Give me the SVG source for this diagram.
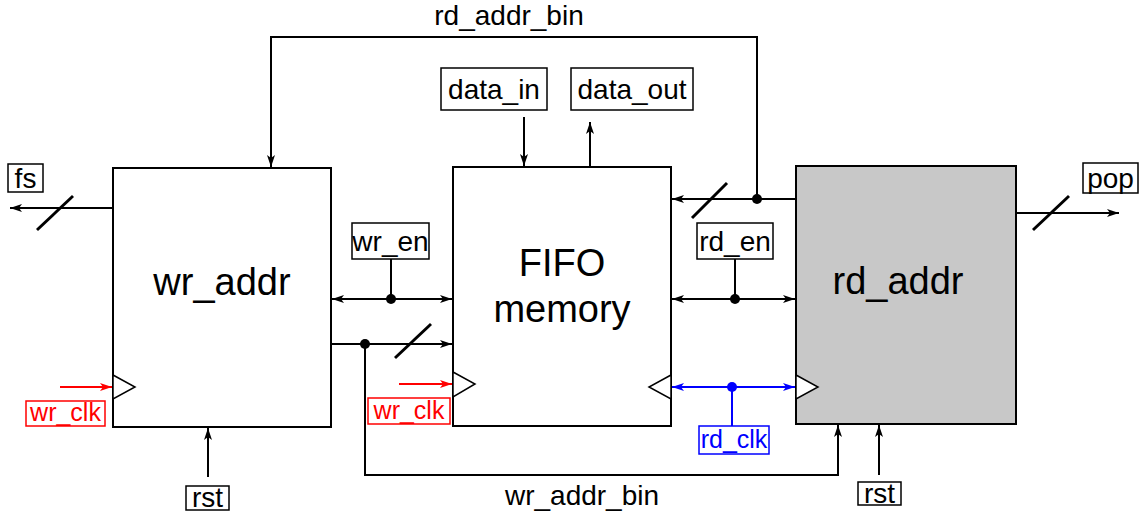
<svg xmlns="http://www.w3.org/2000/svg" width="1145" height="516" viewBox="0 0 1145 516">
<style>
text{font-family:"Liberation Sans",Arial,sans-serif;fill:#000}
.big{font-size:38px;text-anchor:middle}
.lbl{font-size:28px;text-anchor:middle}
.clk{font-size:25px;text-anchor:middle}
.box{fill:#fff;stroke:#000;stroke-width:2}
.lb{fill:#fff;stroke:#000;stroke-width:1.5}
.w{fill:none;stroke:#000;stroke-width:2}
.sl{stroke:#000;stroke-width:3}
.red{stroke:#ff0000;fill:none;stroke-width:2}
.blue{stroke:#0000ff;fill:none;stroke-width:2}
.tri{fill:#fff;stroke:#000;stroke-width:1.5}
</style>
<defs>
<marker id="ak" markerUnits="userSpaceOnUse" markerWidth="13" markerHeight="10" refX="12" refY="5" orient="auto-start-reverse"><path d="M0,1 L12,5 L0,9 L3,5 Z" fill="#000"/></marker>
<marker id="ar" markerUnits="userSpaceOnUse" markerWidth="13" markerHeight="10" refX="12" refY="5" orient="auto-start-reverse"><path d="M0,1 L12,5 L0,9 L3,5 Z" fill="#ff0000"/></marker>
<marker id="ab" markerUnits="userSpaceOnUse" markerWidth="13" markerHeight="10" refX="12" refY="5" orient="auto-start-reverse"><path d="M0,1 L12,5 L0,9 L3,5 Z" fill="#0000ff"/></marker>
</defs>

<g id="wr_addr">
<rect class="box" x="113" y="168" width="218" height="259"/>
<text class="big" x="222" y="295">wr_addr</text>
<polygon class="tri" points="113,375 135,387 113,399"/>
</g>
<g id="fifo">
<rect class="box" x="453" y="167" width="218" height="259"/>
<text class="big" x="562" y="276">FIFO</text>
<text class="big" x="562" y="322">memory</text>
<polygon class="tri" points="453,372 475,384 453,397"/>
<polygon class="tri" points="671,375 649,387 671,399"/>
</g>
<g id="rd_addr">
<rect x="796" y="166" width="220" height="258" fill="#c8c8c8" stroke="#000" stroke-width="2"/>
<text class="big" x="898" y="294">rd_addr</text>
<polygon class="tri" points="796,375 818,387 796,399"/>
</g>

<g id="lbl_fs"><rect class="lb" x="8" y="164" width="35" height="28"/><text class="lbl" x="25.5" y="188">fs</text></g>
<g id="lbl_wr_clk1"><rect x="26" y="401" width="79" height="25" fill="#fff" stroke="#ff0000" stroke-width="1.5"/><text class="clk" x="65.5" y="420.5" style="fill:#ff0000">wr_clk</text></g>
<g id="lbl_rst1"><rect class="lb" x="186" y="486" width="43" height="24"/><text class="lbl" x="207.5" y="507">rst</text></g>
<g id="lbl_wr_en"><rect class="lb" x="352" y="223" width="77" height="36"/><text class="lbl" x="390.5" y="251">wr_en</text></g>
<g id="lbl_wr_clk2"><rect x="368" y="398" width="82" height="26" fill="#fff" stroke="#ff0000" stroke-width="1.5"/><text class="clk" x="409" y="418.5" style="fill:#ff0000">wr_clk</text></g>
<g id="lbl_data_in"><rect class="lb" x="441" y="68" width="106" height="42"/><text class="lbl" x="494" y="99">data_in</text></g>
<g id="lbl_data_out"><rect class="lb" x="571" y="68" width="122" height="42"/><text class="lbl" x="632" y="99">data_out</text></g>
<g id="lbl_rd_en"><rect class="lb" x="697" y="223" width="76" height="36"/><text class="lbl" x="735" y="251">rd_en</text></g>
<g id="lbl_rd_clk"><rect x="699" y="426" width="70" height="28" fill="#fff" stroke="#0000ff" stroke-width="1.5"/><text class="clk" x="734" y="447.5" style="fill:#0000ff">rd_clk</text></g>
<g id="lbl_rst2"><rect class="lb" x="858" y="482" width="43" height="23"/><text class="lbl" x="879.5" y="502.5">rst</text></g>
<g id="lbl_pop"><rect class="lb" x="1083" y="163" width="55" height="30"/><text class="lbl" x="1110.5" y="187.5">pop</text></g>
<g id="lbl_rd_addr_bin"><text class="lbl" x="509" y="25">rd_addr_bin</text></g>
<g id="lbl_wr_addr_bin"><text class="lbl" x="582" y="505">wr_addr_bin</text></g>

<g id="connectors">
<polyline class="w" points="757,199 757,37 271,37 271,167" marker-end="url(#ak)"/>
<line class="w" x1="113" y1="208" x2="10" y2="208" marker-end="url(#ak)"/>
<line class="sl" x1="37" y1="230" x2="73" y2="196"/>
<line class="red" x1="60" y1="387" x2="112" y2="387" marker-end="url(#ar)"/>
<line class="w" x1="208" y1="477" x2="208" y2="428" marker-end="url(#ak)"/>
<line class="w" x1="391" y1="259" x2="391" y2="299"/>
<line class="w" x1="332" y1="299" x2="452" y2="299" marker-start="url(#ak)" marker-end="url(#ak)"/>
<circle cx="391" cy="299" r="5"/>
<line class="w" x1="331" y1="344" x2="452" y2="344" marker-end="url(#ak)"/>
<polyline class="w" points="365,344 365,475 838,475 838,425" marker-end="url(#ak)"/>
<circle cx="365" cy="344" r="5"/>
<line class="sl" x1="395" y1="358" x2="431" y2="324"/>
<line class="red" x1="399" y1="384" x2="452" y2="384" marker-end="url(#ar)"/>
<line class="w" x1="524" y1="117" x2="524" y2="166" marker-end="url(#ak)"/>
<line class="w" x1="590" y1="167" x2="590" y2="122" marker-end="url(#ak)"/>
<line class="w" x1="796" y1="199" x2="672" y2="199" marker-end="url(#ak)"/>
<circle cx="757" cy="199" r="5"/>
<line class="sl" x1="692" y1="218" x2="727" y2="183"/>
<line class="w" x1="735" y1="259" x2="735" y2="299"/>
<line class="w" x1="672" y1="299" x2="795" y2="299" marker-start="url(#ak)" marker-end="url(#ak)"/>
<circle cx="735" cy="299" r="5"/>
<line class="blue" x1="672" y1="387" x2="795" y2="387" marker-start="url(#ab)" marker-end="url(#ab)"/>
<line class="blue" x1="732" y1="387" x2="732" y2="426"/>
<circle cx="732" cy="387" r="5" fill="#0000ff"/>
<line class="w" x1="879" y1="475" x2="879" y2="425" marker-end="url(#ak)"/>
<line class="w" x1="1016" y1="213" x2="1119" y2="213" marker-end="url(#ak)"/>
<line class="sl" x1="1033" y1="230" x2="1069" y2="196"/>
</g>
</svg>
